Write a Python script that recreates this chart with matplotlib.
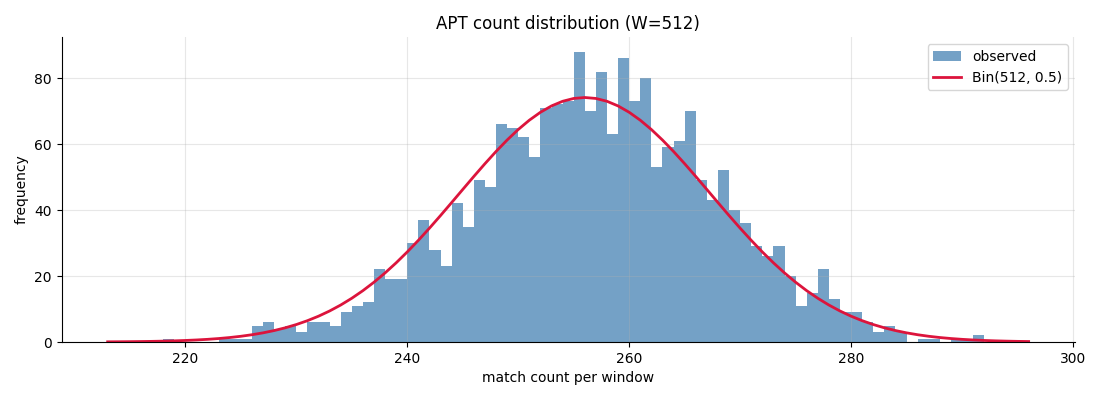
import math
import numpy as np
import matplotlib
matplotlib.use("Agg")
import matplotlib.pyplot as plt

# histogram counts per match count (bin width 1)
match_counts = list(range(218, 292))
frequencies = [1, 0, 0, 0, 0, 1, 1, 1, 5, 6,
               4, 5, 3, 6, 6, 5, 9, 11, 12, 22,
               19, 19, 30, 37, 28, 23, 42, 35, 49, 47,
               66, 65, 62, 56, 71, 72, 73, 88, 70, 82,
               63, 86, 73, 80, 53, 59, 61, 70, 49, 43,
               52, 40, 36, 29, 26, 29, 20, 11, 15, 22,
               13, 9, 9, 6, 3, 5, 3, 0, 1, 1,
               0, 1, 1, 2]
n_trials = 512
p = 0.5

total = sum(frequencies)
edges = np.arange(match_counts[0], match_counts[-1] + 2)

# expected binomial curve
xs = np.arange(match_counts[0] - 5, match_counts[-1] + 6)
pmf = [math.exp(math.lgamma(n_trials + 1) - math.lgamma(k + 1) - math.lgamma(n_trials - k + 1)
                + k * math.log(p) + (n_trials - k) * math.log(1 - p)) for k in xs]
expected = np.array(pmf) * total

fig, ax = plt.subplots(figsize=(11, 4), dpi=100)
ax.hist(match_counts, bins=edges, weights=frequencies, color="steelblue", alpha=0.75, label="observed")
ax.plot(xs, expected, color="crimson", lw=2, label="Bin(512, 0.5)")
ax.set_title("APT count distribution (W=512)")
ax.set_xlabel("match count per window")
ax.set_ylabel("frequency")
ax.grid(alpha=0.3)
ax.spines["top"].set_visible(False)
ax.spines["right"].set_visible(False)
ax.legend(loc="upper right")
plt.subplots_adjust(left=0.056, right=0.977, top=0.907, bottom=0.145)
plt.savefig("out.png")
